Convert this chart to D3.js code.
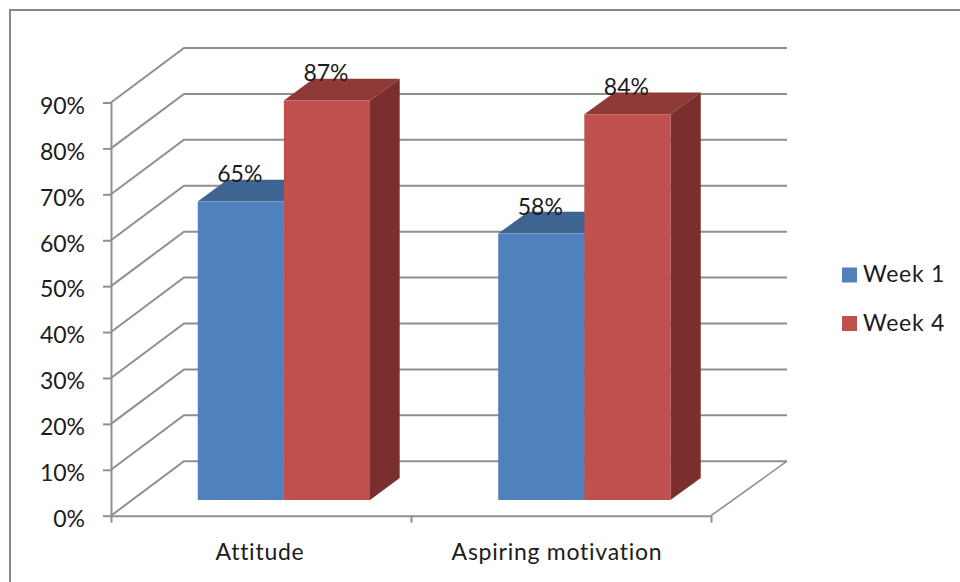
<!DOCTYPE html>
<html>
<head>
<meta charset="utf-8">
<script src="https://cdn.jsdelivr.net/npm/d3@7"></script>
<style>
  html, body { margin: 0; padding: 0; background: #fff; }
  svg { display: block; }
  text { font-family: Lato, "Open Sans", sans-serif; fill: #1c1c1c; }
</style>
</head>
<body>
<svg id="chart" width="960" height="582"></svg>
<script>
const categories = ["Attitude", "Aspiring motivation"];
const seriesNames = ["Week 1", "Week 4"];
const week1 = [65, 58];
const week4 = [87, 84];
const yTicks = [0, 10, 20, 30, 40, 50, 60, 70, 80, 90];

const fills = {
  "Week 1": { front: "#4f81bd", top: "#3e6491", side: "#34557c" },
  "Week 4": { front: "#c0504d", top: "#903a38", side: "#7a2f2e" }
};

const svg = d3.select("#chart");

// Oblique projection: x along the front edge, y for height, depth towards the back wall.
const x = d3.scaleBand().domain(categories).range([112.5, 712.5]).paddingInner(0.4267).paddingOuter(0.2133);
const xInner = d3.scaleBand().domain(seriesNames).range([0, x.bandwidth()]);
const y = d3.scaleLinear().domain([0, 90]).range([515.7, 102.5]);
const backX = d3.scaleLinear().domain([111, 711]).range([184, 787]);
const depthY = d3.scaleLinear().domain([0, 1]).range([0, -54.5]);
const project = (px, value, depth) => [px + (backX(px) - px) * depth, y(value) + depthY(depth)];

const barDepthNear = 0.29;
const barDepthFar = 0.69;
const line = d3.line();
const gridColor = "#8f8f8f";

// Chart frame, running off the right and bottom edges
svg.append("rect")
  .attr("x", 10).attr("y", 10).attr("width", 1000).attr("height", 640)
  .attr("fill", "#fff").attr("stroke", "#868686").attr("stroke-width", 2);

// Back wall gridlines and side wall diagonals
const grid = svg.append("g").attr("fill", "none").attr("stroke", gridColor).attr("stroke-width", 2);
yTicks.forEach(t => {
  grid.append("path").attr("d", line([project(111, t, 0), project(111, t, 1), project(711, t, 1)]));
});
// Floor, right edge
grid.append("path").attr("stroke-width", 1.6).attr("d", line([project(711, 0, 0), project(711, 0, 1)]));

// Axes in the plane of the front edge
const yAxisG = svg.append("g").attr("transform", "translate(111,0)")
  .call(d3.axisLeft(y).tickValues(yTicks).tickSize(8).tickSizeOuter(0).tickFormat(d => d + "%"));
const xAxisG = svg.append("g").attr("transform", `translate(0,${y(0)})`)
  .call(d3.axisBottom(d3.scalePoint().domain([0, 1, 2]).range([111, 711])).tickSize(7).tickSizeOuter(0).tickFormat(""));
[yAxisG, xAxisG].forEach(g => {
  g.selectAll("path, line").attr("stroke", gridColor).attr("stroke-width", 2);
});
yAxisG.selectAll("text")
  .attr("x", -26).attr("y", 2.5).attr("dy", "0.36em")
  .style("font-family", "Lato, sans-serif").style("font-size", "23px").attr("fill", "#1c1c1c");

// Category labels
const categoryNudge = [-2.5, -5.5];
svg.append("g").selectAll("text").data(categories).join("text")
  .attr("x", (d, i) => x(d) + x.bandwidth() / 2 + categoryNudge[i])
  .attr("y", 559.5)
  .attr("text-anchor", "middle")
  .style("font-size", "23px")
  .style("letter-spacing", "0.75px")
  .text(d => d);

// Bars: front, top and side faces
const rows = categories.flatMap((c, i) => [
  { category: c, series: seriesNames[0], value: week1[i] },
  { category: c, series: seriesNames[1], value: week4[i] }
]);
const barsG = svg.append("g");
rows.forEach(r => {
  const x0 = x(r.category) + xInner(r.series);
  const x1 = x0 + xInner.bandwidth();
  const c = fills[r.series];
  const face = (pts, fill) => barsG.append("path").attr("d", line(pts) + "Z").attr("fill", fill);
  face([project(x0, r.value, barDepthNear), project(x1, r.value, barDepthNear),
        project(x1, r.value, barDepthFar), project(x0, r.value, barDepthFar)], c.top);
  face([project(x1, 0, barDepthNear), project(x1, r.value, barDepthNear),
        project(x1, r.value, barDepthFar), project(x1, 0, barDepthFar)], c.side);
  face([project(x0, 0, barDepthNear), project(x1, 0, barDepthNear),
        project(x1, r.value, barDepthNear), project(x0, r.value, barDepthNear)], c.front);
});

// Value labels above each bar
svg.append("g").selectAll("text").data(rows).join("text")
  .attr("x", d => project(x(d.category) + xInner(d.series) + xInner.bandwidth() / 2, d.value, barDepthNear)[0] - 1)
  .attr("y", d => project(x(d.category), d.value, barDepthNear)[1] - 19)
  .attr("text-anchor", "middle")
  .style("font-size", "23px")
  .text(d => d.value + "%");

// Legend
const legendY = d3.scalePoint().domain(seriesNames).range([275, 323.5]);
const legend = svg.append("g").selectAll("g").data(seriesNames).join("g")
  .attr("transform", d => `translate(842,${legendY(d)})`);
legend.append("rect").attr("x", 0).attr("y", -7.5).attr("width", 15).attr("height", 15)
  .attr("fill", d => fills[d].front);
legend.append("text").attr("x", 21).attr("y", 7).style("font-size", "23px").style("letter-spacing", "0.7px").text(d => d);
</script>
</body>
</html>
